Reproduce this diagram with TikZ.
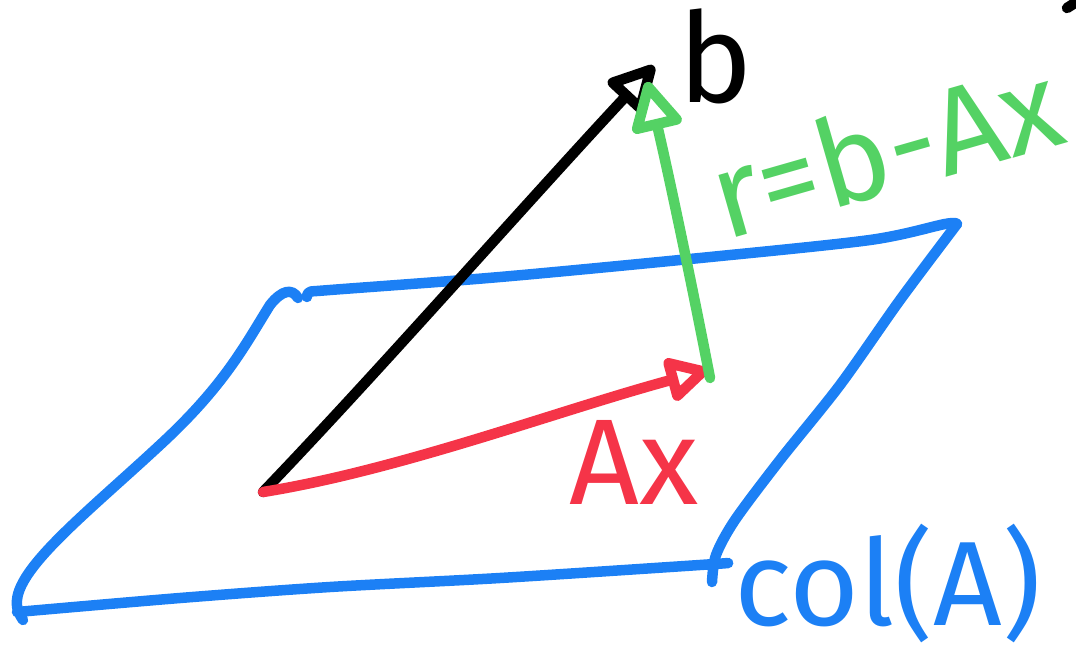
\documentclass[tikz,border=0pt]{standalone}
\usepackage{fontspec}
\setmainfont{Fira Sans}
\usetikzlibrary{arrows.meta}
\definecolor{pblue}{RGB}{28,128,245}
\definecolor{pgreen}{RGB}{84,210,100}
\definecolor{pred}{RGB}{245,52,72}
\tikzset{
  pen/.style={line width=10.5pt, line cap=round, line join=round},
  hand/.style={font=\fontsize{#1}{#1}\selectfont, inner sep=0pt},
  tip/.style={-{Triangle[open,length=#1,width=#1,round]}}
}
\begin{document}
\begin{tikzpicture}[x=1pt,y=-1pt]
\useasboundingbox (0,0) rectangle (1076,647);
% plane col(A)
\draw[pen,pblue] (298,298) .. controls (292,288) and (282,290) .. (270,305)
  .. controls (245,345) and (225,385) .. (160,445)
  .. controls (90,510) and (20,565) .. (17,600)
  .. controls (16,610) and (20,615) .. (23,620);
\draw[pen,pblue] plot[smooth,tension=0.5] coordinates {(17,612) (180,598) (330,587) (500,578) (700,565) (728,563)};
\draw[pen,pblue] plot[smooth,tension=0.5] coordinates {(307,297) (310,292) (330,290) (500,277) (700,258) (870,240) (945,224) (957,224)};
\draw[pen,pblue] plot[smooth,tension=0.5] coordinates {(957,224) (900,300) (840,385) (780,460) (735,520) (716,555) (712,582)};
% vectors
\coordinate (O) at (263,492);
\coordinate (B) at (654,66);
\coordinate (X) at (708,370);
\coordinate (R0) at (710,378);
\coordinate (Btip) at (647,82);
\draw[pen,black,tip=52pt] (O) .. controls (380,370) and (520,210) .. (B);
\draw[pen,pred,tip=48pt] (O) .. controls (400,470) and (560,410) .. (X);
\draw[pen,pgreen,tip=55pt] (R0) .. controls (695,300) and (670,180) .. (Btip);
\draw[pen,black] (1067,8) -- (1078,1);
% labels
\node[hand=125pt,black] (lb) at (716,56) {b};
\node[hand=122pt,pred] (lax) at (634,462) {Ax};
\node[hand=122pt,pgreen,rotate=16] (lr) at (885,148) {r=b-Ax};
\node[hand=120pt,pblue] (lcol) at (888,583) {col(A)};
\end{tikzpicture}
\end{document}
